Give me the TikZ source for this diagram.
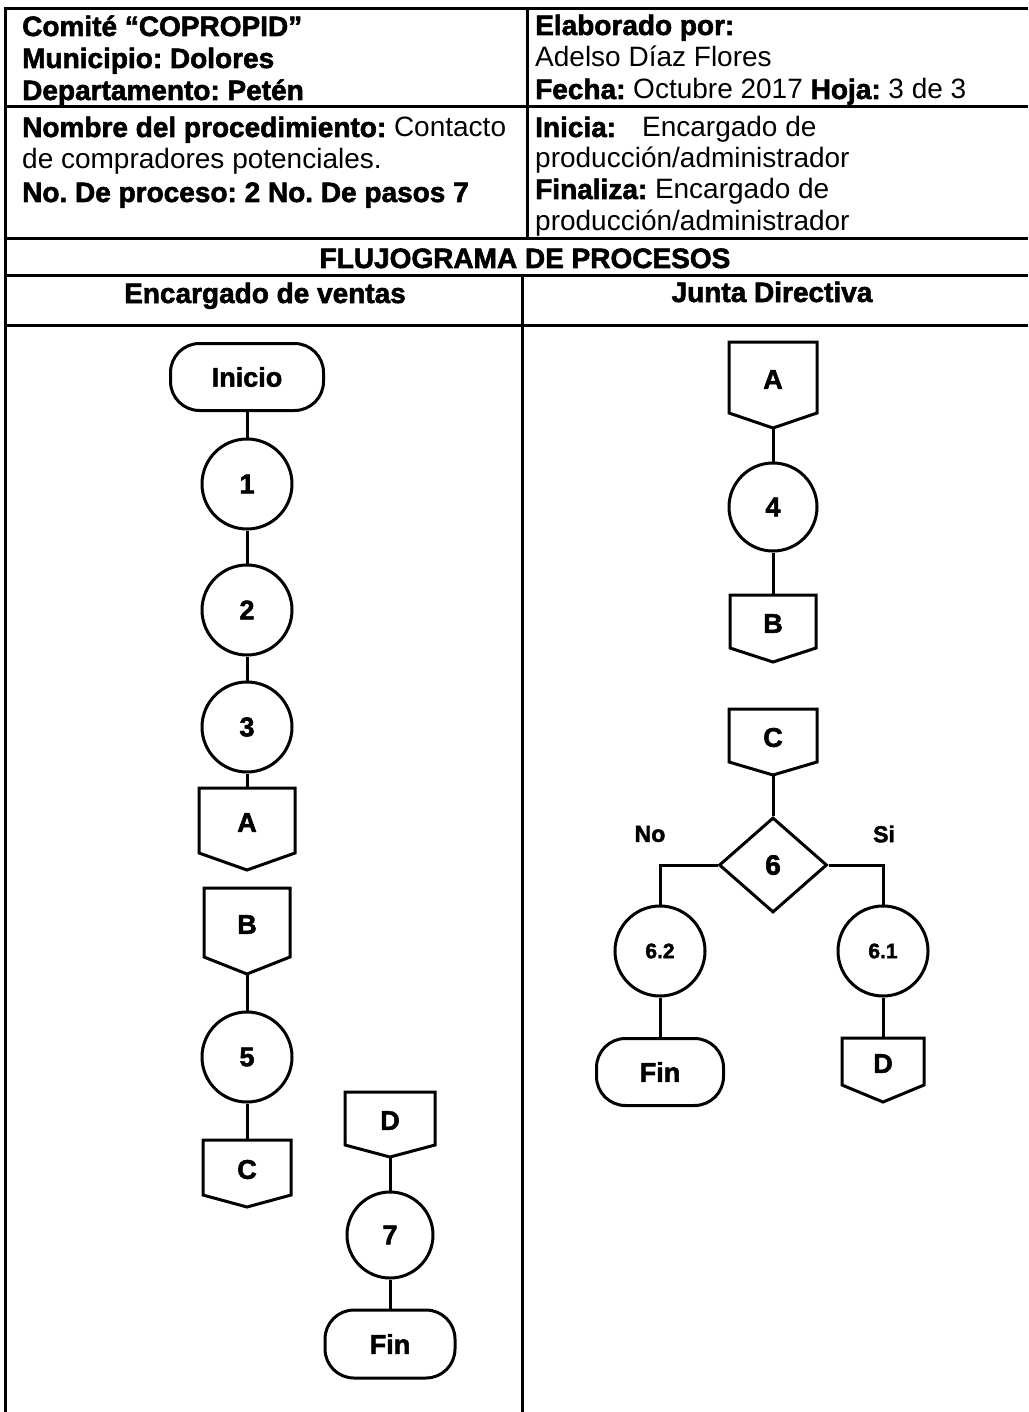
\documentclass[tikz,border=0pt]{standalone}
\usepackage{fontspec}
\setmainfont{Liberation Sans}[BoldFeatures={FakeBold=2}]
\usetikzlibrary{shapes.geometric,calc}
\frenchspacing
\newcommand{\opconn}[7]{%
  \draw[flow] ({#2-#6},#3) -- ({#2-#6},#4) -- (#2,#5) -- ({#2+#6},#4) -- ({#2+#6},#3) -- cycle;
  \node[lbl] (#1) at (#2,{(#3+#4)/2+2}) {#7};
  \coordinate (#1t) at (#2,#3);
  \coordinate (#1p) at (#2,#5);
}
\begin{document}
\begin{tikzpicture}[x=1pt,y=-1pt,
  tbl/.style={line width=3pt},
  flow/.style={line width=3pt, line join=miter},
  hdr/.style={anchor=base west, inner sep=0, font=\fontsize{28}{33}\selectfont},
  ctr/.style={anchor=base, inner sep=0, font=\bfseries\fontsize{28}{33}\selectfont},
  lbl/.style={inner sep=0, font=\bfseries\fontsize{27}{30}\selectfont},
  term/.style={draw, line width=3pt, rounded corners=29pt, inner sep=0, font=\bfseries\fontsize{27}{30}\selectfont},
  stepc/.style={draw, line width=3pt, circle, inner sep=0, minimum size=90pt, font=\bfseries\fontsize{27}{30}\selectfont},
  substep/.style={stepc, font=\bfseries\fontsize{21}{25}\selectfont},
  decis/.style={draw, line width=3pt, diamond, inner sep=0, minimum width=108pt, minimum height=95pt, font=\bfseries\fontsize{28}{30}\selectfont},
  yn/.style={inner sep=0, font=\bfseries\fontsize{23}{27}\selectfont}]
\useasboundingbox (0,0) rectangle (1028,1412);
\fill[white] (0,0) rectangle (1028,1412);

% ---------- table ----------
\coordinate (tl) at (5,9);
\coordinate (bl) at (5,1412);
\draw[tbl] (1028,9) -- (tl) -- (bl);
\draw[tbl] (5,107) -- (1028,107);
\draw[tbl] (5,239) -- (1028,239);
\draw[tbl] (5,276) -- (1028,276);
\draw[tbl] (5,325) -- (1028,325);
\draw[tbl] (527,9) -- (527,239);
\draw[tbl] (522,276) -- (522,1412);

% ---------- header texts ----------
\node[hdr] (h1) at (22,36) {\bfseries Comité “COPROPID”};
\node[hdr] (h2) at (22,68) {\bfseries Municipio: Dolores};
\node[hdr] (h3) at (22,100) {\bfseries Departamento: Petén};
\node[hdr] (h4) at (22,137) {\textbf{Nombre del procedimiento:} Contacto};
\node[hdr] (h5) at (22,169) {de compradores potenciales.};
\node[hdr] (h6) at (22,202) {\bfseries No. De proceso: 2 No. De pasos 7};

\node[hdr] (r1) at (535,35) {\bfseries Elaborado por:};
\node[hdr] (r2) at (535,67) {Adelso Díaz Flores};
\node[hdr] (r3) at (535,99) {\textbf{Fecha:} Octubre 2017 \textbf{Hoja:} 3 de 3};
\node[hdr] (r4) at (535,137) {\textbf{Inicia:}\hspace{26pt}Encargado de};
\node[hdr] (r5) at (535,168) {producción/administrador};
\node[hdr] (r6) at (535,199) {\textbf{Finaliza:} Encargado de};
\node[hdr] (r7) at (535,231) {producción/administrador};

\node[ctr] (flu) at (525,268) {FLUJOGRAMA DE PROCESOS};
\node[ctr] (col1) at (265,303) {Encargado de ventas};
\node[ctr] (col2) at (772,302) {Junta Directiva};

% ---------- left lane ----------
\node[term, minimum width=153pt, minimum height=67pt] (ini) at (247,377) {Inicio};
\node[stepc] (c1) at (247,484) {1};
\node[stepc] (c2) at (247,610) {2};
\node[stepc] (c3) at (247,727) {3};
\opconn{A1}{247}{788}{853}{870}{48}{A}
\opconn{B1}{247}{888}{957}{974}{43}{B}
\node[stepc] (c5) at (247,1057) {5};
\opconn{C1}{247}{1140}{1195}{1207}{44}{C}

\opconn{D1}{390}{1092}{1145}{1157}{45}{D}
\node[stepc, minimum size=86pt] (c7) at (390,1235) {7};
\node[term, minimum width=130pt, minimum height=68pt] (fin1) at (390,1344) {Fin};

\draw[flow] (ini.south) -- (c1.north);
\draw[flow] (c1.south) -- (c2.north);
\draw[flow] (c2.south) -- (c3.north);
\draw[flow] (c3.south) -- (A1t);
\draw[flow] (B1p) -- (c5.north);
\draw[flow] (c5.south) -- (C1t);
\draw[flow] (D1p) -- (c7.north);
\draw[flow] (c7.south) -- (fin1.north);

% ---------- right lane ----------
\opconn{A2}{773}{342}{413}{428}{44}{A}
\node[stepc, minimum size=88pt] (c4) at (773,507) {4};
\opconn{B2}{773}{595}{648}{662}{43}{B}
\opconn{C2}{773}{709}{762}{775}{44}{C}
\node[decis] (d6) at (773,865) {6};
\node[substep] (c62) at (660,951) {6.2};
\node[substep] (c61) at (883,951) {6.1};
\node[term, minimum width=127pt, minimum height=67pt] (fin2) at (660,1072) {Fin};
\opconn{D2}{883}{1038}{1085}{1102}{41}{D}
\node[yn] (no) at (650,834) {No};
\node[yn] (si) at (884,834) {Si};

\draw[flow] (A2p) -- (c4.north);
\draw[flow] (c4.south) -- (B2t);
\draw[flow] (C2p) -- (d6.north);
\draw[flow] (d6.west) -| (c62.north);
\draw[flow] (d6.east) -| (c61.north);
\draw[flow] (c62.south) -- (fin2.north);
\draw[flow] (c61.south) -- (D2t);
\end{tikzpicture}
\end{document}
